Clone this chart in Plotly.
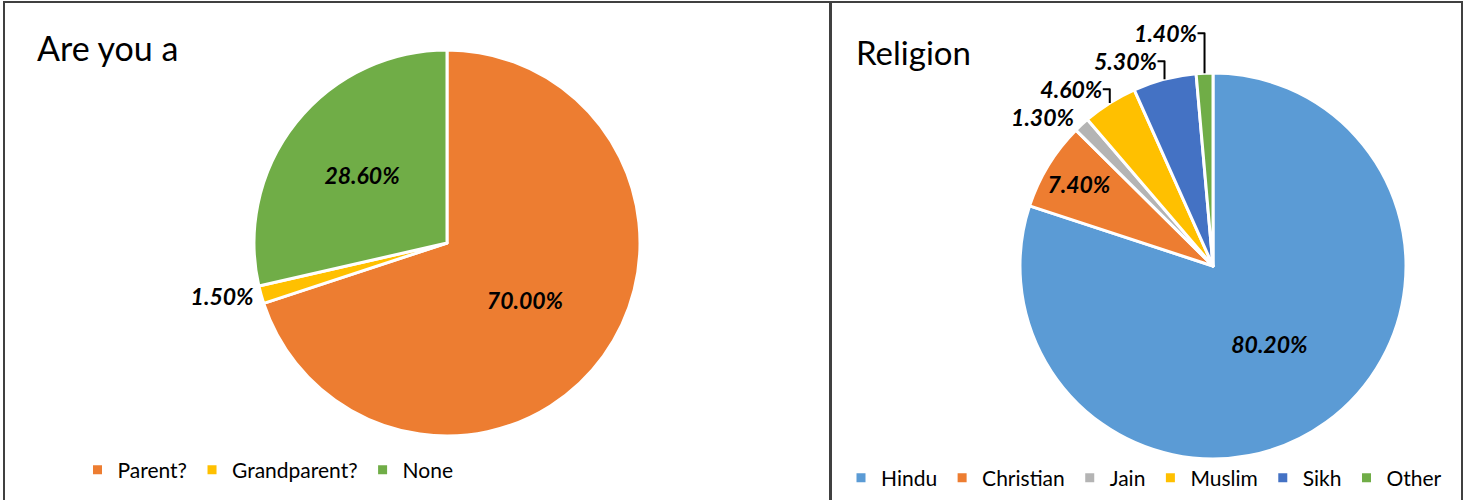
import plotly.graph_objects as go

# ---- data ----
parent_labels = ["Parent?", "Grandparent?", "None"]
parent_values = [70.00, 1.50, 28.60]
parent_colors = ["#ED7D31", "#FFC000", "#70AD47"]

religion_labels = ["Hindu", "Christian", "Jain", "Muslim", "Sikh", "Other"]
religion_values = [80.20, 7.40, 1.30, 4.60, 5.30, 1.40]
religion_colors = ["#5B9BD5", "#ED7D31", "#B4B4B4", "#FFC000", "#4472C4", "#70AD47"]

W, H = 1467, 500
FONT = "Lato"

label_font = dict(family=FONT, size=23, color="black", weight="bold", style="italic")

fig = go.Figure()

fig.add_trace(go.Pie(
    labels=parent_labels, values=parent_values, sort=False, direction="clockwise",
    rotation=0, marker=dict(colors=parent_colors, line=dict(color="white", width=3)),
    texttemplate="%{value:.2f}%", textposition=["inside", "outside", "inside"],
    insidetextorientation="horizontal",
    textfont=label_font,
    domain=dict(x=[254 / W, 640 / W], y=[(H - 436) / H, (H - 50) / H]),
    legend="legend", hoverinfo="label+value",
))

fig.add_trace(go.Pie(
    labels=religion_labels, values=religion_values, sort=False, direction="clockwise",
    rotation=0, marker=dict(colors=religion_colors, line=dict(color="white", width=3)),
    texttemplate="%{value:.2f}%",
    textposition=["inside", "inside", "outside", "outside", "outside", "outside"],
    insidetextorientation="horizontal",
    textfont=label_font,
    domain=dict(x=[1020 / W, 1406 / W], y=[(H - 459) / H, (H - 73) / H]),
    legend="legend2", hoverinfo="label+value",
))

legend_font = dict(family=FONT, size=21, color="black")
fig.update_layout(
    width=W, height=H, margin=dict(l=0, r=0, t=0, b=0),
    paper_bgcolor="white", plot_bgcolor="white",
    font=dict(family=FONT),
    legend=dict(orientation="h", x=268 / W, xanchor="center", y=(H - 470) / H, yanchor="middle",
                font=legend_font, bgcolor="rgba(0,0,0,0)", itemclick=False, itemwidth=30),
    legend2=dict(orientation="h", x=1144 / W, xanchor="center", y=(H - 478) / H, yanchor="middle",
                 font=legend_font, bgcolor="rgba(0,0,0,0)", itemclick=False, itemwidth=30),
    annotations=[
        dict(text="Are you a", x=35 / W, y=(H - 48) / H, xref="paper", yref="paper",
             xanchor="left", yanchor="middle", showarrow=False,
             font=dict(family=FONT, size=34, color="black")),
        dict(text="Religion", x=854 / W, y=(H - 52) / H, xref="paper", yref="paper",
             xanchor="left", yanchor="middle", showarrow=False,
             font=dict(family=FONT, size=33, color="black")),
    ],
    shapes=[
        dict(type="rect", xref="paper", yref="paper", x0=4 / W, x1=830 / W, y0=-0.05, y1=(H - 2) / H,
             line=dict(color="#404040", width=2), layer="above"),
        dict(type="rect", xref="paper", yref="paper", x0=831 / W, x1=1462 / W, y0=-0.05, y1=(H - 2) / H,
             line=dict(color="#404040", width=2), layer="above"),
    ],
)

fig.write_html("out.html", config={"displayModeBar": False},
               post_script="document.body.style.margin='0px';document.body.style.overflow='hidden';")
